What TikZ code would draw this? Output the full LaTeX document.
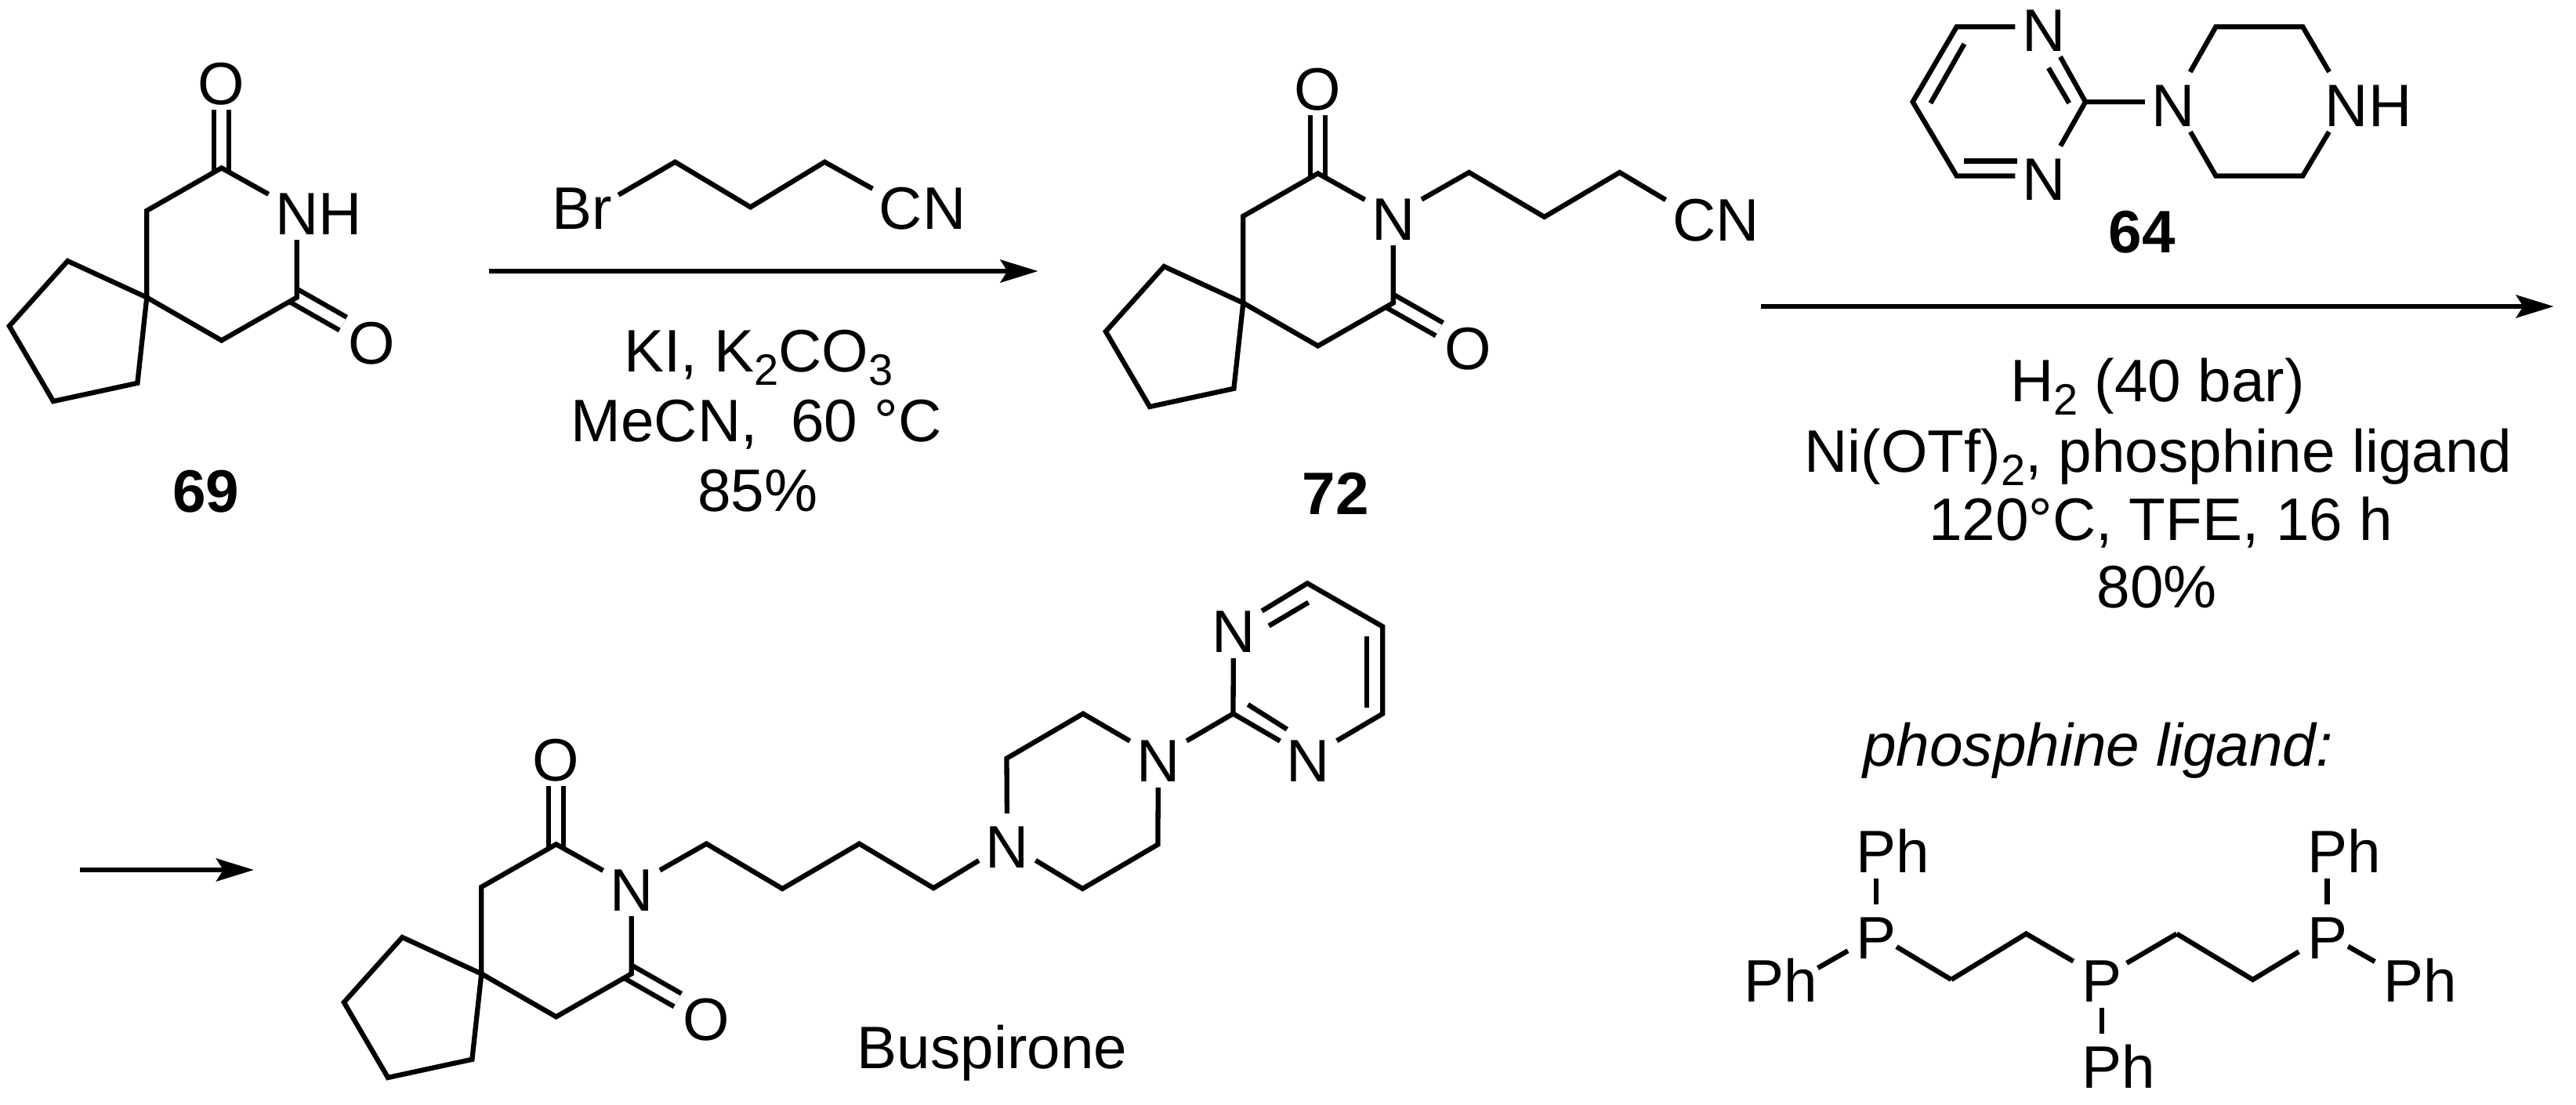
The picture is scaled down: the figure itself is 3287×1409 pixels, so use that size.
\documentclass[tikz,border=0pt]{standalone}
\usepackage{fontspec}
\setmainfont{Liberation Sans}
\usetikzlibrary{arrows.meta}
\tikzset{
  bond/.style={line width=6.3pt,line join=miter,line cap=butt},
  dbl/.style={double,double distance=12.6pt,line width=6.3pt,line cap=butt,shorten <=-4pt},
  rxn/.style={line width=6.3pt,-{Stealth[length=48pt,width=29pt,inset=9pt]}},
  atom/.style={inner sep=0pt,text height=62pt,text depth=0pt,minimum width=72pt,minimum height=76pt},
  atomn/.style={atom,minimum width=42pt},
  lab/.style={anchor=base,inner sep=0pt},
  cmpd/.style={lab,font=\fontsize{76.5pt}{88pt}\bfseries\selectfont}
}
\newcommand{\sbs}[1]{\raisebox{-17pt}{\fontsize{56pt}{60pt}\selectfont #1}}
\newcommand{\spiroring}[4]{%
  \begin{scope}[shift={(#2,#3)},name prefix=#1-]
    \coordinate (s) at (187.3,379.5);
    \coordinate (c1) at (187.3,268.8);
    \coordinate (c2) at (282.7,214.3);
    \coordinate (c3) at (378.8,379.5);
    \coordinate (c4) at (282.7,434.4);
    \coordinate (p1) at (86.3,333);
    \coordinate (p2) at (11.9,416);
    \coordinate (p3) at (68,512);
    \coordinate (p4) at (175.4,488.8);
    \node[atom] (N) at (378.8,268) {#4};
    \node[atom] (Oa) at (282.7,102) {O};
    \node[atom] (Ob) at (474,433.7) {O};
    \draw[dbl] (c2) -- (Oa);
    \draw[dbl] (c3) -- (Ob);
    \draw[bond] (N) -- (c3) -- (c4) -- (s) -- (c1) -- (c2) -- (N);
    \draw[bond] (s) -- (p1) -- (p2) -- (p3) -- (p4) -- cycle;
  \end{scope}}
\begin{document}
\begin{tikzpicture}[x=1pt,y=-1pt,font=\fontsize{76.5pt}{88pt}\selectfont]
\useasboundingbox (0,0) rectangle (3287,1409);
\fill[white] (0,0) rectangle (3287,1409);

% --- 69, 72, Buspirone rings
\spiroring{A}{0}{0}{N\rlap{H}}
\spiroring{B}{1399}{7}{N}
\spiroring{C}{427}{863}{N}
\node[cmpd] (n69) at (263,653) {69};
\node[cmpd] (n72) at (1704.4,656) {72};

% --- bromobutyronitrile reagent
\node[atomn] (br) at (768,261) {\llap{B}r};
\coordinate (r1) at (861.5,206.7);
\coordinate (r2) at (957.6,264.3);
\coordinate (r3) at (1052.3,206.7);
\node[atom] (rcn) at (1149.6,261) {C\rlap{N}};
\draw[bond] (br) -- (r1) -- (r2) -- (r3) -- (rcn);

% --- arrow 1 + conditions
\coordinate (a1s) at (623.6,346);
\coordinate (a1e) at (1324.5,346);
\draw[rxn] (a1s) -- (a1e);
\node[lab] (t1) at (968,474) {KI, K\sbs{2}CO\sbs{3}};
\node[lab] (t2) at (965,563) {MeCN,\ \ 60 °C};
\node[lab] (t3) at (967,652) {85\%};

% --- nitrile chain of 72
\coordinate (q1) at (1874.5,220);
\coordinate (q2) at (1970.6,276.8);
\coordinate (q3) at (2066.7,220);
\node[atom] (qcn) at (2161.6,276.6) {C\rlap{N}};
\draw[bond] (B-N) -- (q1) -- (q2) -- (q3) -- (qcn);

% --- 64
\node[atom] (u1) at (2607.6,34.2) {N};
\node[atom] (u2) at (2607.6,224.5) {N};
\node[atom] (u3) at (2773,130) {N};
\node[atom] (u4) at (2994.5,130) {N\rlap{H}};
\coordinate (uc2) at (2661,130);
\coordinate (uc4) at (2496.7,34.2);
\coordinate (uc5) at (2440.6,130);
\coordinate (uc6) at (2496.7,224.5);
\coordinate (ur1) at (2827.4,34.2);
\coordinate (ur2) at (2938.3,34.2);
\coordinate (ur3) at (2938.3,224.5);
\coordinate (ur4) at (2827.4,224.5);
\draw[bond] (u1) -- (uc4) -- (uc5) -- (uc6) -- (u2) (u2) -- (uc2) -- (u1);
\draw[bond] (uc2) -- (u3) -- (ur1) -- (ur2) -- (u4) -- (ur3) -- (ur4) -- (u3);
\coordinate (ui1a) at (2463.4,131.6); \coordinate (ui1b) at (2506.4,56);
\coordinate (ui2a) at (2506.4,205.6); \coordinate (ui2b) at (2574.3,205.6);
\coordinate (ui3a) at (2613.9,86.7); \coordinate (ui3b) at (2640.2,131.6);
\draw[bond] (ui1a) -- (ui1b);
\draw[bond] (ui2a) -- (ui2b);
\draw[bond] (ui3a) -- (ui3b);
\node[cmpd] (n64) at (2733,322.4) {64};

% --- arrow 2 + conditions
\coordinate (a2s) at (2247,391);
\coordinate (a2e) at (3258.6,391);
\draw[rxn] (a2s) -- (a2e);
\node[lab] (t4) at (2753,512.8) {H\sbs{2} (40 bar)};
\node[lab] (t5) at (2754,602) {Ni(OTf)\sbs{2}, phosphine ligand};
\node[lab] (t6) at (2757,689) {120°C, TFE, 16 h};
\node[lab] (t7) at (2752,775.5) {80\%};

% --- arrow 3
\coordinate (a3s) at (101.7,1110);
\coordinate (a3e) at (324,1110);
\draw[rxn] (a3s) -- (a3e);

% --- Buspirone side chain
\coordinate (b1) at (901.4,1076.6);
\coordinate (b2) at (998.3,1134);
\coordinate (b3) at (1096.5,1076.6);
\coordinate (b4) at (1191.2,1133.2);
\node[atom] (bn1) at (1285.2,1076) {N};
\node[atom] (bn2) at (1478,966.6) {N};
\node[atom] (bn3) at (1573.9,801.6) {N};
\node[atom] (bn4) at (1669.6,966.6) {N};
\coordinate (br1) at (1284.5,967.7);
\coordinate (br2) at (1382,910.7);
\coordinate (br3) at (1477.4,1077.6);
\coordinate (br4) at (1381.3,1134);
\coordinate (bc2) at (1573.5,910.7);
\coordinate (bc4) at (1668.2,744.3);
\coordinate (bc5) at (1764.3,799.5);
\coordinate (bc6) at (1764.3,910.7);
\draw[bond] (C-N) -- (b1) -- (b2) -- (b3) -- (b4) -- (bn1);
\draw[bond] (bn1) -- (br1) -- (br2) -- (bn2) -- (br3) -- (br4) -- (bn1);
\draw[bond] (bn2) -- (bc2) -- (bn3) -- (bc4) -- (bc5) -- (bc6) -- (bn4) -- (bc2);
\coordinate (bi1a) at (1592.4,899); \coordinate (bi1b) at (1642.3,930.6);
\coordinate (bi2a) at (1619.1,798.6); \coordinate (bi2b) at (1669.6,768.7);
\coordinate (bi3a) at (1744,812); \coordinate (bi3b) at (1744,902.6);
\draw[bond] (bi1a) -- (bi1b);
\draw[bond] (bi2a) -- (bi2b);
\draw[bond] (bi3a) -- (bi3b);
\node[lab] (buspirone) at (1266,1363) {Buspirone};

% --- phosphine ligand
\node[lab] (t8) at (2677,977.6) {\itshape phosphine ligand:};
\node[atom] (P1) at (2394.1,1192.5) {P};
\node[atom] (P2) at (2681.8,1247.6) {P};
\node[atom] (P3) at (2969.5,1192.5) {P};
\node[atom] (Ph1) at (2394.1,1082.7) {P\rlap{h}};
\node[atom] (Ph3) at (2969.5,1082.7) {P\rlap{h}};
\node[atom] (Ph2) at (2681.8,1357.4) {P\rlap{h}};
\node[atomn] (Ph4) at (2298,1247.5) {\llap{P}h};
\node[atom] (Ph5) at (3066.5,1247.5) {P\rlap{h}};
\coordinate (l1) at (2489.8,1250);
\coordinate (l2) at (2585.4,1191.5);
\coordinate (l3) at (2777.5,1191.5);
\coordinate (l4) at (2874.5,1250);
\draw[bond,shorten <=-12pt] (P1) -- (l1);
\draw[bond] (l1) -- (l2) -- (P2);
\draw[bond,shorten <=-5pt] (P2) -- (l3);
\draw[bond] (l3) -- (l4) -- (P3);
\draw[bond] (P1) -- (Ph1);
\draw[bond] (P3) -- (Ph3);
\draw[bond] (P2) -- (Ph2);
\draw[bond] (P1) -- (Ph4);
\draw[bond,shorten <=-11pt] (P3) -- (Ph5);
\end{tikzpicture}
\end{document}
